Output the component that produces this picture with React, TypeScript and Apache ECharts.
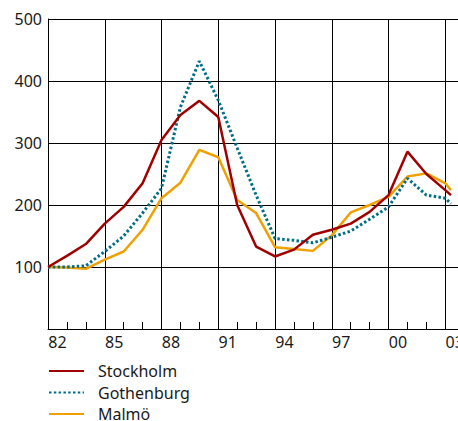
import React, { useEffect, useRef } from "react";
import * as echarts from "echarts";

// Year positions of the observations (last one is a partial-year reading)
const years = [
  1982, 1983, 1984, 1985, 1986, 1987, 1988, 1989, 1990, 1991, 1992,
  1993, 1994, 1995, 1996, 1997, 1998, 1999, 2000, 2001, 2002, 2003, 2003.3,
];
const stockholm = [
  100, 118, 137, 170, 197, 235, 305, 345, 368, 342, 200,
  133, 117, 128, 152, 160, 170, 189, 216, 286, 250, 224, 216,
];
const gothenburg = [
  100, 100, 102, 125, 150, 187, 227, 358, 432, 369, 292,
  216, 146, 143, 139, 148, 158, 177, 197, 243, 216, 211, 202,
];
const malmo = [
  100, 99, 97, 112, 125, 160, 211, 236, 289, 277, 208,
  187, 132, 129, 126, 151, 188, 200, 213, 246, 251, 235, 224,
];
const seriesNames = ["Stockholm", "Gothenburg", "Malmö"];
const xLabelYears = [1982, 1985, 1988, 1991, 1994, 1997, 2000, 2003];
const yTicks = [100, 200, 300, 400, 500];

const BASE = 1982;
const X_MAX = 22;
const FONT = "Noto Sans";

export default function App() {
  const ref = useRef<HTMLDivElement>(null);
  useEffect(() => {
    if (!ref.current) return;
    const chart = echarts.init(ref.current, undefined, { renderer: "svg" });
    const toPairs = (vals: number[]) => years.map((y, i) => [y - BASE, vals[i]]);
    const labelSet = new Set(xLabelYears.map((y) => y - BASE + 0.5));
    const common = { type: "value", min: 0, max: X_MAX, gridIndex: 0, position: "bottom" };
    chart.setOption({
      animation: false,
      textStyle: { fontFamily: FONT },
      grid: {
        left: 48,
        width: 416.2,
        top: 19,
        height: 310,
        containLabel: false,
        outerBoundsMode: "none",
      },
      xAxis: [
        {
          ...common,
          interval: 0.5,
          axisLine: { show: true, onZero: false, lineStyle: { color: "#000", width: 1 } },
          axisTick: { show: false },
          splitLine: { show: false },
          axisLabel: {
            show: true,
            margin: 5,
            fontSize: 16,
            color: "#1a1a1a",
            fontFamily: FONT,
            showMaxLabel: false,
            hideOverlap: false,
            formatter: (v: number) => {
              const r = Math.round(v * 10) / 10;
              if (!labelSet.has(r)) return "";
              const yr = Math.floor(r + BASE);
              return String(yr).slice(2);
            },
          },
        },
        {
          ...common,
          interval: 1,
          axisLine: { show: false },
          axisTick: { show: true, inside: true, length: 7, lineStyle: { color: "#000", width: 1 } },
          splitLine: { show: false },
          axisLabel: { show: false },
        },
        {
          ...common,
          interval: 3,
          axisLine: { show: false },
          axisTick: { show: false },
          splitLine: { show: true, lineStyle: { color: "#000", width: 1 } },
          axisLabel: { show: false },
        },
      ],
      yAxis: {
        type: "value",
        min: 0,
        max: 500,
        interval: 100,
        axisLine: { show: true, lineStyle: { color: "#000", width: 1 } },
        axisTick: { show: false },
        splitLine: { show: true, lineStyle: { color: "#000", width: 1 } },
        axisLabel: {
          margin: 6,
          fontSize: 16,
          color: "#1a1a1a",
          fontFamily: FONT,
          formatter: (v: number) => (yTicks.includes(v) ? String(v) : ""),
        },
      },
      legend: {
        orient: "vertical",
        left: 48,
        top: 363,
        height: 80,
        padding: 0,
        itemWidth: 35,
        itemHeight: 16,
        itemGap: 5.5,
        data: seriesNames,
        itemStyle: { opacity: 0 },
        textStyle: { fontSize: 16, color: "#1a1a1a", fontFamily: FONT, lineHeight: 16, padding: [0, 0, 0, 9] },
      },
      series: [
        {
          name: seriesNames[0],
          type: "line",
          data: toPairs(stockholm),
          symbol: "none",
          lineStyle: { color: "#A00000", width: 2.5 },
          itemStyle: { color: "#A00000" },
          z: 4,
        },
        {
          name: seriesNames[1],
          type: "line",
          data: toPairs(gothenburg),
          symbol: "none",
          lineStyle: { color: "#006E87", width: 3, type: [2.5, 2.3] },
          itemStyle: { color: "#006E87" },
          z: 3,
        },
        {
          name: seriesNames[2],
          type: "line",
          data: toPairs(malmo),
          symbol: "none",
          lineStyle: { color: "#F0A000", width: 2.5 },
          itemStyle: { color: "#F0A000" },
          z: 2,
        },
      ],
    });
    return () => chart.dispose();
  }, []);
  return (
    <div
      ref={ref}
      style={{ position: "absolute", left: 0, top: 0, width: 458, height: 421, background: "#fff" }}
    />
  );
}
